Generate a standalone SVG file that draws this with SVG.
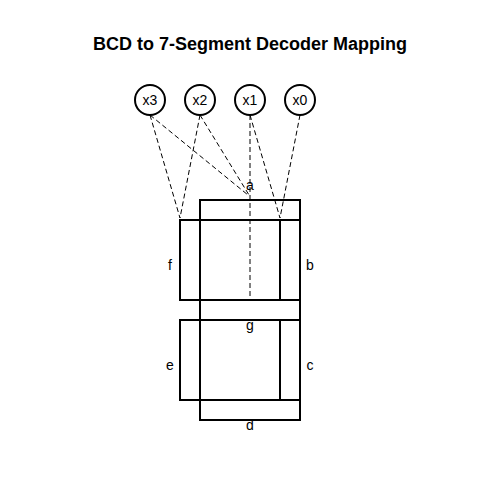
<svg xmlns="http://www.w3.org/2000/svg" width="500" height="500" viewBox="0 0 500 500">
<style>
text{font-family:"Liberation Sans",Arial,sans-serif;font-size:14px;fill:#000;text-anchor:middle}
.title{font-size:18px;font-weight:bold}
.seg{fill:none;stroke:#000;stroke-width:2}
.in{fill:#fff;stroke:#000;stroke-width:2}
.conn{stroke:#000;stroke-width:1;stroke-dasharray:5,3;fill:none}
</style>
<rect width="500" height="500" fill="#fff"/>
<text class="title" x="250" y="50">BCD to 7-Segment Decoder Mapping</text>
<g id="connectors">
<line class="conn" x1="150" y1="115" x2="248" y2="195"/>
<line class="conn" x1="150" y1="115" x2="180" y2="218"/>
<line class="conn" x1="200" y1="115" x2="249" y2="195"/>
<line class="conn" x1="200" y1="115" x2="180" y2="218"/>
<line class="conn" x1="250" y1="115" x2="250" y2="300"/>
<line class="conn" x1="250" y1="115" x2="280" y2="218"/>
<line class="conn" x1="300" y1="115" x2="280" y2="218"/>
</g>
<g id="seg-a"><rect class="seg" x="200" y="200" width="100" height="20"/><text x="250" y="190">a</text></g>
<g id="seg-b"><rect class="seg" x="280" y="220" width="20" height="80"/><text x="310" y="270">b</text></g>
<g id="seg-c"><rect class="seg" x="280" y="320" width="20" height="80"/><text x="310" y="370">c</text></g>
<g id="seg-d"><rect class="seg" x="200" y="400" width="100" height="20"/><text x="250" y="430">d</text></g>
<g id="seg-e"><rect class="seg" x="180" y="320" width="20" height="80"/><text x="170" y="370">e</text></g>
<g id="seg-f"><rect class="seg" x="180" y="220" width="20" height="80"/><text x="170" y="270">f</text></g>
<g id="seg-g"><rect class="seg" x="200" y="300" width="100" height="20"/><text x="250" y="330">g</text></g>
<g id="x3"><circle class="in" cx="150" cy="100" r="15"/><text x="150" y="105">x3</text></g>
<g id="x2"><circle class="in" cx="200" cy="100" r="15"/><text x="200" y="105">x2</text></g>
<g id="x1"><circle class="in" cx="250" cy="100" r="15"/><text x="250" y="105">x1</text></g>
<g id="x0"><circle class="in" cx="300" cy="100" r="15"/><text x="300" y="105">x0</text></g>
</svg>
